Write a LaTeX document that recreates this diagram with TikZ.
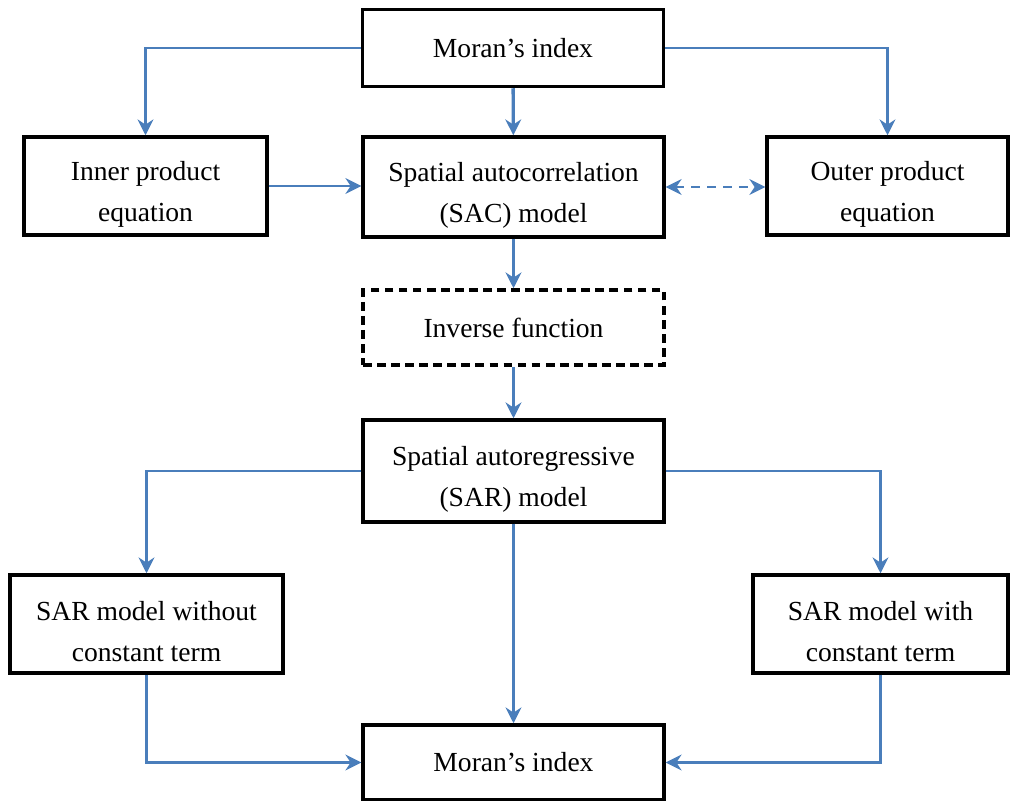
\documentclass[tikz,border=0pt]{standalone}
\usepackage{fontspec}
\setmainfont{Liberation Serif}
\usetikzlibrary{arrows.meta}
\definecolor{flowblue}{HTML}{4A7EBB}
\newcommand{\lift}{\rule{0pt}{20pt}}

\begin{document}
\begin{tikzpicture}[x=0.02cm,y=-0.02cm,
        box/.style={draw=black,line width=2pt,align=center,inner sep=2pt,
            font=\fontsize{15.7}{23.3}\selectfont},
        flow/.style={draw=flowblue,line width=1.3pt,-{Stealth[length=9pt,width=9pt]}},
        mainflow/.style={flow,line width=1.9pt}]
    \useasboundingbox (0,0) rectangle (1012,801);
    \node[box,minimum width=6.02cm,minimum height=1.54cm] (moranTop) at (513,48) {Moran’s index};
    \node[box,minimum width=4.86cm,minimum height=1.96cm] (inner) at (145.5,186) {\lift Inner product\\equation};
    \node[box,minimum width=6.02cm,minimum height=2.0cm] (sac) at (513.5,187) {\lift Spatial autocorrelation\\(SAC) model};
    \node[box,minimum width=4.82cm,minimum height=1.96cm] (outer) at (887.5,186) {\lift Outer product\\equation};
    \node[box,dashed,dash pattern=on 5pt off 3pt,minimum width=6.02cm,minimum height=1.5cm] (inverse) at (513.5,327.5) {Inverse function};
    \node[box,minimum width=6.02cm,minimum height=2.04cm] (sar) at (513.5,471) {\lift Spatial autoregressive\\(SAR) model};
    \node[box,minimum width=5.46cm,minimum height=1.96cm] (without) at (146.5,624) {\lift SAR model without\\constant term};
    \node[box,minimum width=5.1cm,minimum height=1.96cm] (with) at (880.5,624) {\lift SAR model with\\constant term};
    \node[box,minimum width=6.02cm,minimum height=1.5cm] (moranBot) at (513.5,762.5) {Moran’s index};

    % upper part
    \draw[flow] (moranTop.west) -| (inner.north);
    \draw[flow] (moranTop.east) -| (outer.north);
    \draw[mainflow] (moranTop) -- (sac);
    \draw[flow] (inner) -- (inner -| sac.west);
    \draw[flow,{Stealth[length=9pt,width=9pt]}-{Stealth[length=9pt,width=9pt]},dashed,dash pattern=on 5pt off 4pt] (sac) -- (sac -| outer.west);
    \draw[mainflow] (sac) -- (inverse);
    \draw[mainflow] (inverse) -- (sar);
    % lower part
    \draw[flow] (sar.west) -| (without.north);
    \draw[flow] (sar.east) -| (with.north);
    \draw[flow] (sar) -- (moranBot);
    \draw[flow] (without.south) |- (moranBot.west);
    \draw[flow] (with.south) |- (moranBot.east);
\end{tikzpicture}
\end{document}
